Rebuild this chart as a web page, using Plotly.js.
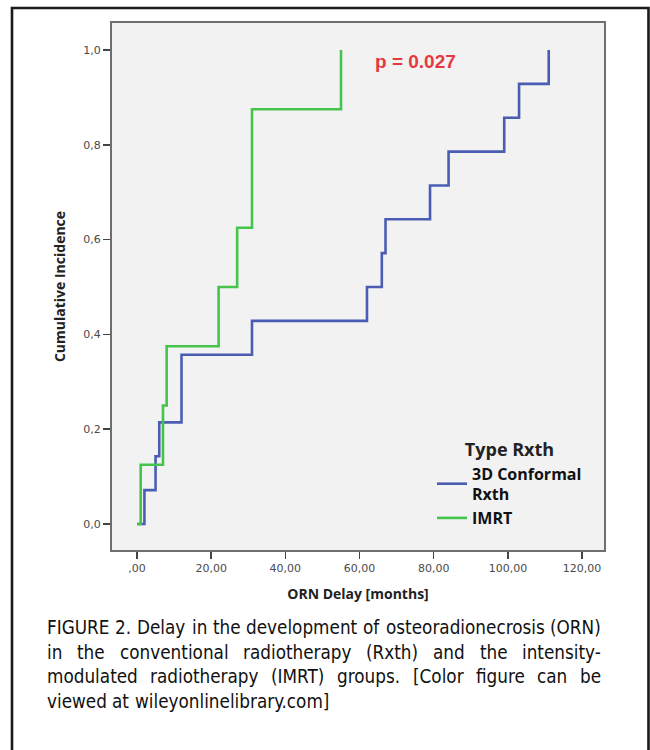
<!DOCTYPE html>
<html><head><meta charset="utf-8">
<script src="https://cdn.plot.ly/plotly-3.0.1.min.js"></script>
<style>html,body{margin:0;padding:0;background:#fff;} #chart{width:650px;height:750px;}</style>
</head><body><div id="chart"></div>
<script>
// ---- data ----
const conformalMonths = [0, 2, 5, 6, 12, 31, 62, 66, 67, 79, 84, 99, 103, 111];
const conformalCum    = [0, 0.0714, 0.1429, 0.2143, 0.3571, 0.4286, 0.5, 0.5714, 0.6429, 0.7143, 0.7857, 0.8571, 0.9286, 1.0];
const imrtMonths = [0, 1, 7, 8, 22, 27, 31, 55];
const imrtCum    = [0, 0.125, 0.25, 0.375, 0.5, 0.625, 0.875, 1.0];
const seriesNames = ["3D Conformal<br>Rxth", "IMRT"];
const xTickVals = [0, 20, 40, 60, 80, 100, 120];
const xTickText = [",00", "20,00", "40,00", "60,00", "80,00", "100,00", "120,00"];
const yTickVals = [0, 0.2, 0.4, 0.6, 0.8, 1.0];
const yTickText = ["0,0", "0,2", "0,4", "0,6", "0,8", "1,0"];
const pText = "p = 0.027";
const captionLines = [
  "FIGURE 2. Delay in the development of osteoradionecrosis (ORN)",
  "in the conventional radiotherapy (Rxth) and the intensity-",
  "modulated radiotherapy (IMRT) groups. [Color figure can be",
  "viewed at wileyonlinelibrary.com]"
];

// ---- geometry ----
const L = 112, R = 604, T = 23, B = 550;
const px2x = p => (p - L) / (R - L);
const px2y = p => (B - p) / (B - T);

const traces = [
  {x: conformalMonths, y: conformalCum, name: seriesNames[0], type: 'scatter', mode: 'lines',
   line: {shape: 'hv', color: '#4a5db3', width: 2.6}},
  {x: imrtMonths, y: imrtCum, name: seriesNames[1], type: 'scatter', mode: 'lines',
   line: {shape: 'hv', color: '#45c44c', width: 2.6}}
];

// caption, justified
const capFam = '"Liberation Sans Narrow", "DejaVu Sans Condensed", "Roboto", sans-serif';
const cv = document.createElement('canvas').getContext('2d');
function meas(t, s) { cv.font = s + 'px ' + capFam; return cv.measureText(t).width; }
const capLeft = 47, capRight = 601, capW = capRight - capLeft;
let capSize = 19 * (capW - 4) / meas(captionLines[0], 19);
capSize = Math.max(14, Math.min(21, capSize));
const capY = [627, 652, 676, 701];
const annotations = [];
captionLines.forEach((line, i) => {
  const words = line.split(' ');
  const ws = words.map(w => meas(w, capSize));
  const sum = ws.reduce((a, b) => a + b, 0);
  const justify = i < captionLines.length - 1;
  const gap = justify ? (capW - sum) / (words.length - 1) : meas(' ', capSize);
  let xp = capLeft;
  words.forEach((w, j) => {
    annotations.push({xref: 'paper', yref: 'paper', x: px2x(xp), y: px2y(capY[i]),
      xanchor: 'left', yanchor: 'middle', text: w, showarrow: false, borderpad: 0, borderwidth: 0,
      font: {family: capFam, size: capSize, color: '#111111'}});
    xp += ws[j] + gap;
  });
});
annotations.push({xref: 'x', yref: 'y', x: 75.2, y: 0.975, text: pText, showarrow: false,
  xanchor: 'center', yanchor: 'middle',
  font: {family: 'Liberation Sans, Arial, sans-serif', size: 19, color: '#e5393f', weight: 'bold'}});

const axisTitleFont = {family: 'Open Sans, sans-serif', size: 14, color: '#222', weight: 'bold'};
const tickFont = {family: 'DejaVu Sans, sans-serif', size: 11, color: '#4a4a4a'};

const layout = {
  width: 650, height: 750,
  margin: {l: L, r: 650 - R, t: T, b: 750 - B, pad: 0},
  paper_bgcolor: '#ffffff', plot_bgcolor: '#f2f2f2',
  showlegend: true,
  xaxis: {range: [-6.74, 125.9], tickvals: xTickVals, ticktext: xTickText, ticks: 'outside', ticklen: 7,
    tickwidth: 1.5, tickcolor: '#444', showgrid: false, zeroline: false, showline: true, mirror: true,
    linecolor: '#6e6e6e', linewidth: 2, tickfont: tickFont,
    title: {text: 'ORN Delay [months]', font: axisTitleFont, standoff: 15}},
  yaxis: {range: [-0.0549, 1.057], tickvals: yTickVals, ticktext: yTickText, ticks: 'outside', ticklen: 7,
    tickwidth: 1.5, tickcolor: '#444', showgrid: false, zeroline: false, showline: true, mirror: true,
    linecolor: '#6e6e6e', linewidth: 2, tickfont: tickFont,
    title: {text: 'Cumulative Incidence', font: axisTitleFont, standoff: 14}},
  legend: {x: px2x(432), y: px2y(433), xanchor: 'left', yanchor: 'top', bgcolor: 'rgba(0,0,0,0)',
    font: {family: 'Open Sans, sans-serif', size: 16, color: '#111', weight: 'bold'},
    title: {text: 'Type Rxth', side: 'top center', font: {family: 'Open Sans, sans-serif', size: 18, color: '#222', weight: 'bold'}},
    tracegroupgap: 0, itemwidth: 30},
  shapes: [
    {type: 'path', xref: 'paper', yref: 'paper',
     path: 'M' + px2x(12) + ',' + px2y(780) + ' L' + px2x(12) + ',' + px2y(8) + ' L' + px2x(648.5) + ',' + px2y(8) + ' L' + px2x(648.5) + ',' + px2y(780),
     line: {color: '#1a1a1a', width: 2.6}, layer: 'above'}
  ],
  annotations: annotations
};

Plotly.newPlot('chart', traces, layout, {displayModeBar: false, staticPlot: true});
</script>
</body></html>
